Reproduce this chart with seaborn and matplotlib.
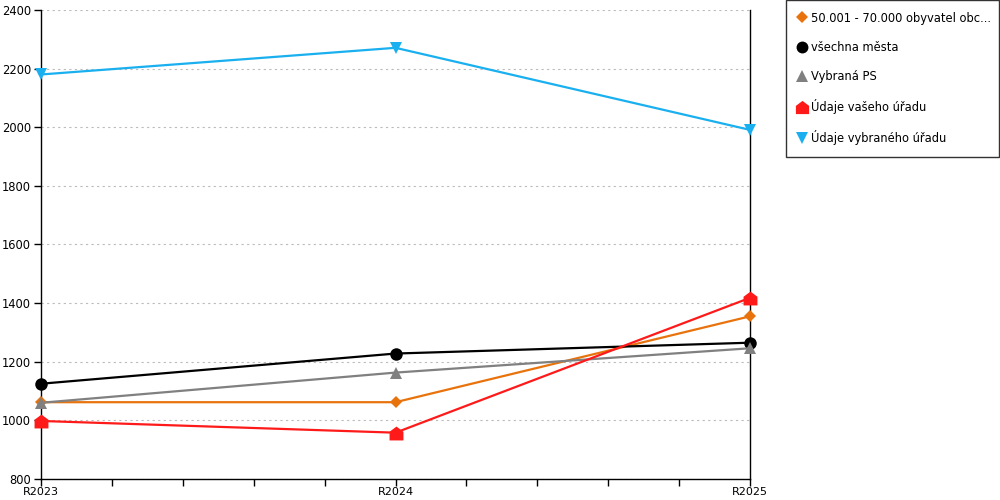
import numpy as np
import pandas as pd
import matplotlib
matplotlib.use("Agg")
import matplotlib.pyplot as plt
import seaborn as sns
from matplotlib.lines import Line2D
from matplotlib.path import Path
from matplotlib.ticker import MultipleLocator

years = ['R2023', 'R2024', 'R2025']
series_names = [
    '50.001 - 70.000 obyvatel obc...',
    'všechna města',
    'Vybraná PS',
    'Údaje vašeho úřadu',
    'Údaje vybraného úřadu',
]
orange_vals = [1062, 1062, 1355]
black_vals = [1125, 1228, 1265]
gray_vals = [1060, 1163, 1246]
red_vals = [998, 958, 1418]
blue_vals = [2180, 2271, 1991]

house = Path([(-1, -1), (1, -1), (1, 0.25), (0, 1), (-1, 0.25), (-1, -1)],
             [Path.MOVETO, Path.LINETO, Path.LINETO, Path.LINETO, Path.LINETO, Path.CLOSEPOLY])

styles = [
    ('#e8730c', 'D', 6),
    ('#000000', 'o', 9),
    ('#808080', '^', 9),
    ('#ff1a1a', house, 10),
    ('#1ab0ef', 'v', 9),
]
all_vals = [orange_vals, black_vals, gray_vals, red_vals, blue_vals]

sns.set_style('white')
plt.rcParams['font.family'] = ['DejaVu Sans']
plt.rcParams['text.color'] = 'black'

fig = plt.figure(figsize=(10, 5), dpi=100)
ax = fig.add_axes([0.041, 0.042, 0.709, 0.938])

x = np.arange(len(years))
handles = []
for name, vals, (col, mk, ms) in zip(series_names, all_vals, styles):
    sns.lineplot(x=x, y=vals, ax=ax, color=col, linewidth=1.6, marker=mk,
                 markersize=ms, markeredgewidth=0, markeredgecolor=col,
                 clip_on=False, zorder=3)
    handles.append(Line2D([], [], linestyle='none', marker=mk, color=col,
                          markersize=ms * 0.95, markeredgewidth=0))

ax.set_xlim(0, 2)
ax.set_ylim(800, 2400)
ax.set_xticks(x)
ax.set_xticklabels(years)
ax.xaxis.set_minor_locator(MultipleLocator(0.2))
ax.yaxis.set_major_locator(MultipleLocator(200))
ax.grid(axis='y', color='#bbbbbb', linestyle=(0, (2, 3)), linewidth=0.8)
ax.set_axisbelow(True)

for s in ['left', 'bottom', 'right']:
    ax.spines[s].set_visible(True)
    ax.spines[s].set_color('black')
    ax.spines[s].set_linewidth(1)
ax.spines['top'].set_visible(False)

ax.tick_params(axis='x', which='major', length=5, width=1, direction='out',
               labelsize=8, pad=0.5, bottom=True, colors='black')
ax.tick_params(axis='x', which='minor', length=5, width=1, direction='out',
               bottom=True, colors='black')
ax.tick_params(axis='y', which='major', length=5, width=1, direction='out',
               labelsize=8.3, pad=2, left=True, colors='black')
ax.set_xlabel('')
ax.set_ylabel('')

leg = fig.legend(handles, series_names, loc='upper left',
                 bbox_to_anchor=(0.786, 1.0, 0.213, 0.0), mode='expand',
                 frameon=True, fancybox=False, fontsize=8.3, labelspacing=1.4,
                 handlelength=0.8, handletextpad=0.35, borderpad=1.0,
                 borderaxespad=0.0)
leg.get_frame().set_edgecolor('black')
leg.get_frame().set_linewidth(1)

fig.savefig('out.png', dpi=100)
